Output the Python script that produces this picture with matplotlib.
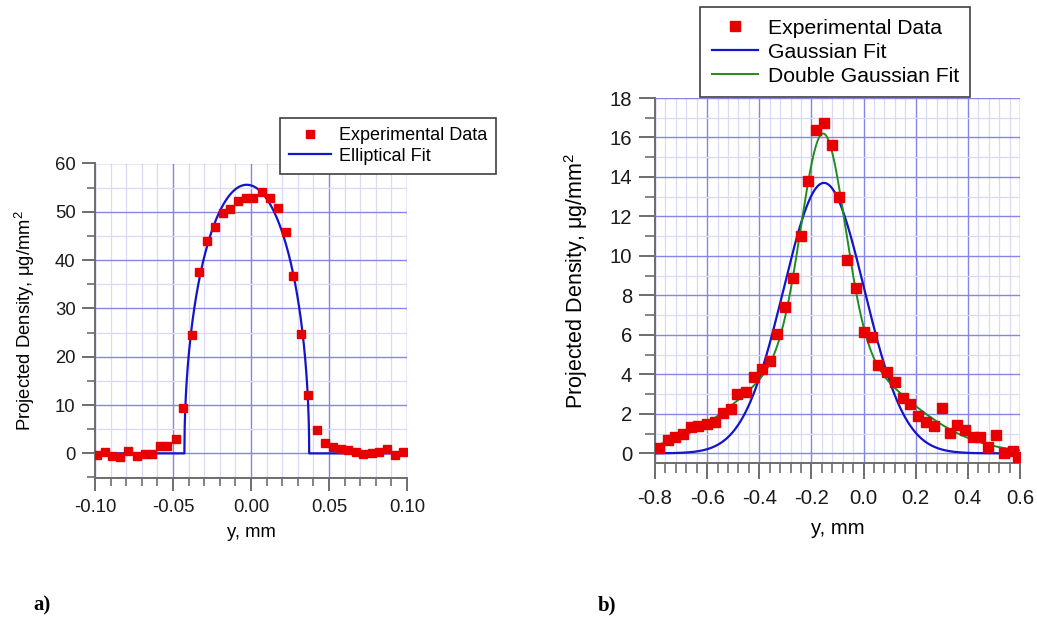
import numpy as np
import matplotlib
matplotlib.use("Agg")
import matplotlib.pyplot as plt
from matplotlib.ticker import MultipleLocator, FormatStrFormatter
from matplotlib.lines import Line2D

plt.rcParams["font.family"] = ["Liberation Sans", "DejaVu Sans"]
plt.rcParams["mathtext.fontset"] = "custom"
plt.rcParams["mathtext.rm"] = "Liberation Sans"
plt.rcParams["mathtext.it"] = "Liberation Sans:italic"
plt.rcParams["axes.unicode_minus"] = False

# ---- panel a): narrow jet profile ----
y_a = [-0.0989, -0.0936, -0.0893, -0.0840, -0.0787, -0.0733, -0.0680, -0.0637,
       -0.0583, -0.0536, -0.0480, -0.0434, -0.0380, -0.0331, -0.0284, -0.0231,
       -0.0182, -0.0135, -0.0081, -0.0032, 0.0015, 0.0068, 0.0122, 0.0171,
       0.0224, 0.0271, 0.0320, 0.0367, 0.0420, 0.0474, 0.0524, 0.0575,
       0.0624, 0.0673, 0.0720, 0.0773, 0.0822, 0.0874, 0.0923, 0.0972]
rho_a = [-0.35, 0.3, -0.5, -0.7, 0.5, -0.5, -0.2, -0.2,
         1.5, 1.5, 3.0, 9.3, 24.5, 37.5, 44.0, 46.8,
         49.7, 50.6, 52.3, 52.8, 52.8, 54.0, 52.9, 50.8,
         45.8, 36.8, 24.8, 12.1, 4.8, 2.2, 1.4, 1.0,
         0.7, 0.3, -0.2, 0.0, 0.2, 0.8, -0.3, 0.3]

# elliptical fit parameters: peak, centre, half-width (mm)
ell_peak = 55.6
ell_center = -0.0027
ell_radius = 0.040

# ---- panel b): wide spray profile ----
y_b = [-0.784, -0.749, -0.723, -0.692, -0.663, -0.634, -0.602, -0.570,
       -0.540, -0.510, -0.484, -0.451, -0.420, -0.391, -0.359, -0.331,
       -0.301, -0.272, -0.241, -0.212, -0.183, -0.152, -0.122, -0.093,
       -0.063, -0.030, 0.0015, 0.031, 0.056, 0.089, 0.120, 0.150,
       0.178, 0.210, 0.239, 0.270, 0.300, 0.331, 0.359, 0.389,
       0.418, 0.446, 0.478, 0.508, 0.539, 0.572, 0.593]
rho_b = [0.25, 0.67, 0.84, 0.98, 1.35, 1.40, 1.48, 1.60,
         2.02, 2.27, 3.03, 3.11, 3.87, 4.29, 4.68, 6.06,
         7.42, 8.90, 11.0, 13.8, 16.4, 16.75, 15.6, 13.0,
         9.81, 8.35, 6.14, 5.89, 4.48, 4.14, 3.60, 2.79,
         2.50, 1.91, 1.60, 1.39, 2.28, 1.02, 1.44, 1.18,
         0.84, 0.84, 0.34, 0.93, 0.0, 0.14, -0.17]

# single Gaussian fit: amplitude, centre, sigma
g_amp, g_mu, g_sig = 13.7, -0.152, 0.155
# double Gaussian fit: narrow core + broad wings
dg_amp1, dg_mu1, dg_sig1 = 11.0, -0.155, 0.083
dg_amp2, dg_mu2, dg_sig2 = 5.2, -0.155, 0.285

labels_a = ["Experimental Data", "Elliptical Fit"]
labels_b = ["Experimental Data", "Gaussian Fit", "Double Gaussian Fit"]

RED = "#e80000"
BLUE = "#1414c8"
GREEN = "#1f8c1f"
SPINE = "#6e6e6e"

W, H = 1037, 620
fig = plt.figure(figsize=(W / 100, H / 100), dpi=100)


def px_axes(x0, x1, ytop, ybot):
    return fig.add_axes([x0 / W, 1 - ybot / H, (x1 - x0) / W, (ybot - ytop) / H])


def style(ax, fs, lmaj, lmin, xpad, ypad):
    for s in ("top", "right"):
        ax.spines[s].set_visible(False)
    for s in ("left", "bottom"):
        ax.spines[s].set_color(SPINE)
        ax.spines[s].set_linewidth(1.4)
    ax.tick_params(which="major", length=lmaj, width=1.4, color=SPINE,
                   labelsize=fs, labelcolor="#1a1a1a", direction="out")
    ax.tick_params(which="minor", length=lmin, width=1.2, color=SPINE,
                   direction="out")
    ax.tick_params(axis="x", which="major", pad=xpad)
    ax.tick_params(axis="y", which="major", pad=ypad)
    ax.grid(which="major", color="#8585e4", lw=1.0)
    ax.grid(which="minor", color="#dadaf7", lw=0.9)
    ax.set_axisbelow(True)


# ---------------- panel a ----------------
FS_A = 13.3
axa = px_axes(95, 407, 163.5, 477.5)
style(axa, FS_A, 9.5, 5.5, 6, 4.5)
axa.set_xlim(-0.10, 0.10)
axa.set_ylim(-5, 60)
axa.xaxis.set_major_locator(MultipleLocator(0.05))
axa.xaxis.set_minor_locator(MultipleLocator(0.01))
axa.xaxis.set_major_formatter(FormatStrFormatter("%.2f"))
axa.yaxis.set_major_locator(MultipleLocator(10))
axa.yaxis.set_minor_locator(MultipleLocator(5))

xa_fit = np.linspace(-0.10, 0.10, 2001)
ya_fit = ell_peak * np.sqrt(np.clip(1 - ((xa_fit - ell_center) / ell_radius) ** 2, 0, None))
axa.plot(xa_fit, ya_fit, color=BLUE, lw=1.6, zorder=3)
axa.plot(y_a, rho_a, ls="none", marker="s", ms=6.3, color=RED, mec=RED, zorder=4)
axa.set_xlabel("y, mm", fontsize=FS_A, labelpad=6)
axa.set_ylabel("Projected Density, μg/mm$^2$", fontsize=FS_A, labelpad=13)

ha = [Line2D([], [], ls="none", marker="s", ms=6.3, color=RED),
      Line2D([], [], color=BLUE, lw=1.6)]
lega = fig.legend(ha, labels_a, loc="upper left",
                  bbox_to_anchor=(280 / W, 1 - 118 / H), borderaxespad=0,
                  fontsize=13.0, frameon=True, fancybox=False, framealpha=1,
                  edgecolor="#404040", handlelength=2.3, handletextpad=0.45,
                  labelspacing=0.2, borderpad=0.5)
lega.get_frame().set_linewidth(1.2)

# ---------------- panel b ----------------
FS_B = 14.6
axb = px_axes(655, 1020, 98, 463.2)
style(axb, FS_B, 11.5, 7, 7, 5)
axb.set_xlim(-0.8, 0.6)
axb.set_ylim(-0.5, 18)
axb.xaxis.set_major_locator(MultipleLocator(0.2))
axb.xaxis.set_minor_locator(MultipleLocator(0.04))
axb.xaxis.set_major_formatter(FormatStrFormatter("%.1f"))
axb.yaxis.set_major_locator(MultipleLocator(2))
axb.yaxis.set_minor_locator(MultipleLocator(1))

xb_fit = np.linspace(-0.8, 0.6, 1401)
g_fit = g_amp * np.exp(-0.5 * ((xb_fit - g_mu) / g_sig) ** 2)
dg_fit = (dg_amp1 * np.exp(-0.5 * ((xb_fit - dg_mu1) / dg_sig1) ** 2)
          + dg_amp2 * np.exp(-0.5 * ((xb_fit - dg_mu2) / dg_sig2) ** 2))
axb.plot(xb_fit, g_fit, color=BLUE, lw=1.6, zorder=3)
axb.plot(xb_fit, dg_fit, color=GREEN, lw=1.4, zorder=3)
axb.plot(y_b, rho_b, ls="none", marker="s", ms=6.8, color=RED, mec=RED, zorder=4)
axb.set_xlabel("y, mm", fontsize=FS_B, labelpad=8)
axb.set_ylabel("Projected Density, μg/mm$^2$", fontsize=15.5, labelpad=14)

hb = [Line2D([], [], ls="none", marker="s", ms=6.8, color=RED),
      Line2D([], [], color=BLUE, lw=1.6),
      Line2D([], [], color=GREEN, lw=1.4)]
legb = fig.legend(hb, labels_b, loc="upper left",
                  bbox_to_anchor=(700 / W, 1 - 7 / H), borderaxespad=0,
                  fontsize=15.2, frameon=True, fancybox=False, framealpha=1,
                  edgecolor="#404040", handlelength=2.2, handletextpad=0.45,
                  labelspacing=0.24, borderpad=0.55)
legb.get_frame().set_linewidth(1.2)

# panel tags
fig.text(33 / W, 1 - 605 / H, "a)", fontsize=15, fontweight="bold",
         family="Liberation Serif", va="center", ha="left")
fig.text(598 / W, 1 - 605 / H, "b)", fontsize=15, fontweight="bold",
         family="Liberation Serif", va="center", ha="left")

fig.savefig("out.png", dpi=100)
